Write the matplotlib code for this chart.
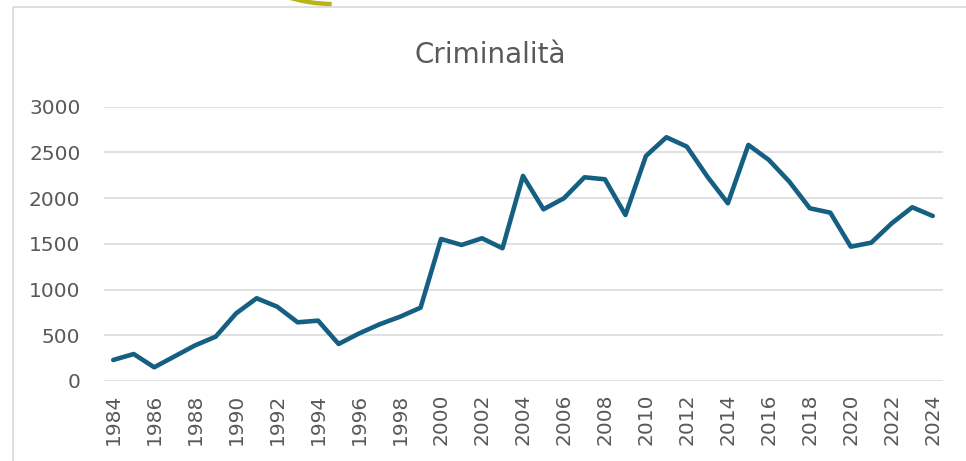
import matplotlib
matplotlib.use("Agg")
import matplotlib.pyplot as plt
from matplotlib.patches import Rectangle, Arc

years = list(range(1984, 2025))
crimes = [230, 295, 150, 270, 390, 485, 740, 905, 813, 642, 660, 405, 520,
          620, 703, 802, 1553, 1488, 1561, 1452, 2243, 1878, 1999, 2228, 2206,
          1816, 2461, 2666, 2563, 2235, 1944, 2582, 2418, 2180, 1889, 1841,
          1469, 1513, 1725, 1900, 1805]
year_ticks = years[::2]
value_ticks = [0, 500, 1000, 1500, 2000, 2500, 3000]

line_color = "#156082"
text_color = "#595959"
grid_color = "#D9D9D9"

W, H = 966, 461
fig = plt.figure(figsize=(W / 100, H / 100), dpi=100)

# background layer in pixel units: chart frame and the accent arc
bg = fig.add_axes([0, 0, 1, 1], zorder=-1)
bg.set_xlim(0, W)
bg.set_ylim(H, 0)
bg.axis("off")
bg.add_patch(Rectangle((13, 7.5), W, H, fill=False, edgecolor=grid_color, lw=1.2))
bg.add_patch(Arc((333, -146), 300, 300, theta1=90.5, theta2=108,
                 color="#B7B41E", lw=3.2))

ax = fig.add_axes([104 / W, 1 - 381 / H, (943 - 104) / W, (381 - 106.7) / H])
ax.plot(years, crimes, color=line_color, lw=3.3,
        solid_joinstyle="round", solid_capstyle="round", clip_on=False)

ax.set_xlim(1983.55, 2024.5)
ax.set_ylim(0, 3000)
ax.set_xticks(year_ticks)
ax.set_xticklabels([str(y) for y in year_ticks], rotation=90)
ax.set_yticks(value_ticks)
ax.tick_params(axis="both", length=0, labelsize=14.5, labelcolor=text_color)
ax.tick_params(axis="y", pad=17)
ax.tick_params(axis="x", pad=9)
ax.grid(axis="y", color=grid_color, lw=1.1)
ax.set_axisbelow(True)
for s in ax.spines.values():
    s.set_visible(False)

fig.text(490 / W, 1 - 55 / H, "Criminalità", ha="center", va="center",
         fontsize=20, color=text_color)

fig.savefig("out.png", dpi=100)
